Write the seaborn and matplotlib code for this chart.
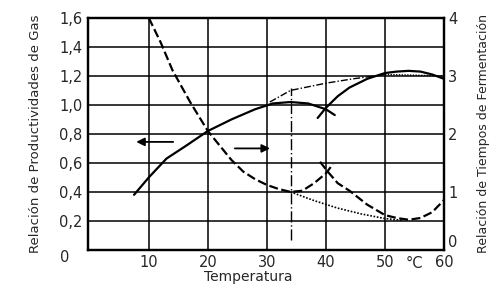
import matplotlib
matplotlib.use("Agg")
import matplotlib.pyplot as plt
import seaborn as sns
import pandas as pd

# ---- data (left axis: gas productivity ratio; right axis: fermentation time ratio)
gas1_t = [7.5, 10, 13, 16, 20, 24, 28, 31, 34, 37, 40, 41.5]
gas1_v = [0.38, 0.50, 0.63, 0.71, 0.82, 0.90, 0.97, 1.01, 1.02, 1.01, 0.97, 0.93]

gas2_t = [38.6, 40, 42, 44, 47, 50, 52, 54, 56, 58, 60]
gas2_v = [0.91, 0.98, 1.06, 1.12, 1.18, 1.22, 1.23, 1.235, 1.23, 1.21, 1.18]

env_t = [30.5, 34, 40, 44.6, 50]
env_v = [1.02, 1.10, 1.15, 1.18, 1.21]
env2_t = [50, 60]
env2_v = [1.21, 1.20]

ferm1_t = [10, 12, 14, 17, 20, 22, 24, 26, 28, 30, 32, 34, 36, 38, 40, 41.2]
ferm1_v = [4.0, 3.58, 3.1, 2.55, 2.05, 1.8, 1.55, 1.35, 1.22, 1.12, 1.05, 1.0, 1.02, 1.15, 1.32, 1.48]

ferm2_t = [39, 40.3, 42, 44, 47, 50, 52, 54, 56, 58, 60]
ferm2_v = [1.52, 1.35, 1.15, 1.02, 0.78, 0.6, 0.55, 0.52, 0.55, 0.65, 0.86]

dot_t = [34, 38, 42, 46, 50, 53]
dot_v = [1.0, 0.85, 0.72, 0.62, 0.54, 0.51]

vline_t = [34, 34]
vline_v = [0.07, 1.12]

left_ticks = [0.2, 0.4, 0.6, 0.8, 1.0, 1.2, 1.4, 1.6]
left_labels = ["0,2", "0,4", "0,6", "0,8", "1,0", "1,2", "1,4", "1,6"]
right_ticks = [0, 1, 2, 3, 4]
x_ticks = [10, 20, 30, 40, 50, 60]

arrow_left = [(14.6, 0.745), (7.4, 0.745)]
arrow_right = [(24.1, 0.70), (31.0, 0.70)]

sns.set_style("white")
plt.rcParams["font.family"] = ["DejaVu Sans"]

fig = plt.figure(figsize=(5.0, 2.94), dpi=100)
ax = fig.add_axes([0.176, 0.150, 0.712, 0.789])
ax2 = ax.twinx()

lw = 1.6
df = lambda t, v: pd.DataFrame({"t": t, "v": v})

def draw(a, t, v, width, dashes=None):
    sns.lineplot(data=df(t, v), x="t", y="v", ax=a, color="black", lw=width,
                 sort=False, estimator=None, errorbar=None)
    if dashes:
        a.lines[-1].set_dashes(dashes)

draw(ax, gas1_t, gas1_v, lw)
draw(ax, gas2_t, gas2_v, lw)
draw(ax, env_t, env_v, 1.0, [5, 1.5, 1, 1.5])
draw(ax, env2_t, env2_v, 1.0, [1, 1])
draw(ax, vline_t, vline_v, 1.0, [8, 2, 1, 2])

draw(ax2, ferm1_t, ferm1_v, lw, [4, 1.6])
draw(ax2, ferm2_t, ferm2_v, lw, [4, 1.6])
draw(ax2, dot_t, dot_v, 1.2, [1, 1])

for (a, b) in [arrow_left, arrow_right]:
    ax.annotate("", xy=b, xytext=a,
                arrowprops=dict(arrowstyle="-|>", color="black", lw=1.3, mutation_scale=12))

ax.set_xlim(-0.3, 60)
ax.set_ylim(0, 1.6)
ax2.set_ylim(0, 4)

ax.set_xticks(x_ticks)
ax.set_xticklabels([str(x) for x in x_ticks], fontsize=10.5)
ax.set_yticks(left_ticks)
ax.set_yticklabels(left_labels, fontsize=10.5)
ax2.set_yticks(right_ticks)
ax2.set_yticklabels([str(v) for v in right_ticks], fontsize=10.5)
ax2.get_yticklabels()[0].set_va("bottom")
ax.tick_params(length=0, pad=4)
ax2.tick_params(length=0, pad=3)

ax.grid(True, color="black", lw=1.1)
ax.set_axisbelow(True)
for a in (ax, ax2):
    for s in a.spines.values():
        s.set_color("black")
        s.set_linewidth(1.6)

ax.set_xlabel("Temperatura", fontsize=10, labelpad=0)
ax.xaxis.set_label_coords(0.45, -0.085)
ax.set_ylabel("Relación de Productividades de Gas", fontsize=9.5, labelpad=12)
ax2.set_ylabel("Relación de Tiempos de Fermentación", fontsize=9, labelpad=14)

ax.text(-3.5, 0, "0", transform=ax.transData, fontsize=10.5, ha="right", va="top")
ax.text(55, -0.04, "°C", fontsize=10.5, ha="center", va="top")

fig.savefig("out.png", dpi=100)
